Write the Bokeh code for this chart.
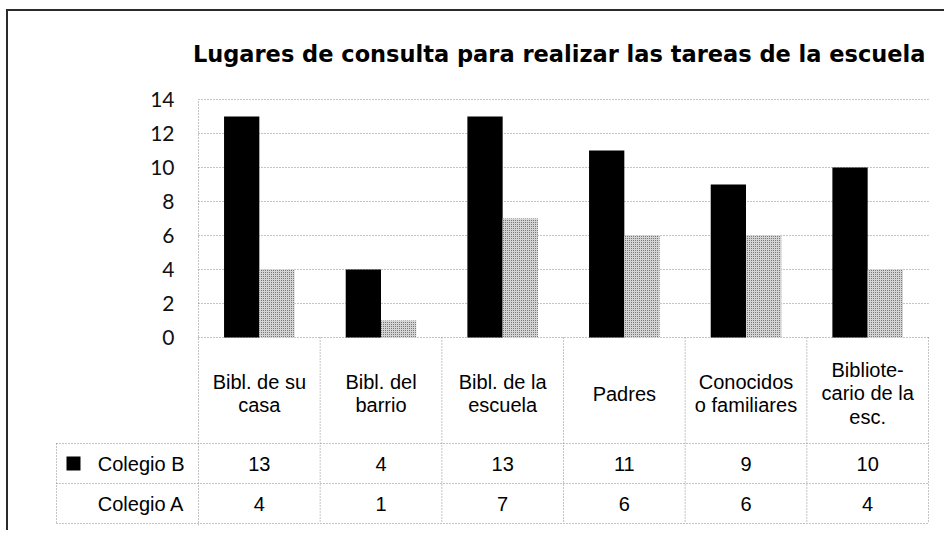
from bokeh.plotting import figure
from bokeh.models import Range1d, FixedTicker, LinearAxis, ColumnDataSource
from bokeh.transform import dodge
from bokeh.core.properties import value
from bokeh.embed import file_html
from bokeh.resources import INLINE

# ---------------- data ----------------
title_text = "Lugares de consulta para realizar las tareas de la escuela"
categories = ["Bibl. de su\ncasa", "Bibl. del\nbarrio", "Bibl. de la\nescuela",
              "Padres", "Conocidos\no familiares", "Bibliote-\ncario de la\nesc."]
series_names = ["Colegio B", "Colegio A"]
colegio_b = [13, 4, 13, 11, 9, 10]
colegio_a = [4, 1, 7, 6, 6, 4]
y_ticks = [0, 2, 4, 6, 8, 10, 12, 14]

# ---------------- layout helpers (data units) ----------------
n = len(categories)
y_max = 14
px_per_y = 17.0
px_per_x = 121.67
label_col = 142 / px_per_x          # width of the row-label column of the table
row_top = -106 / px_per_y           # bottom of the category-label row
row_mid = -146 / px_per_y           # between the two series rows
row_bot = -186 / px_per_y           # bottom of the table
cat_y = -56 / px_per_y
b_y = (row_top + row_mid) / 2
a_y = (row_mid + row_bot) / 2

x_start = -(144 / px_per_x)
x_end = n + 2 / px_per_x
y_end = y_max + 13 / px_per_y
y_start = y_max - 426 / px_per_y

W, H = 938, 521
p = figure(width=W, height=H, output_backend="svg", toolbar_location=None,
           x_range=Range1d(x_start, x_end), y_range=Range1d(y_start, y_end),
           x_axis_location=None, y_axis_location=None,
           min_border_left=46, min_border_right=16, min_border_top=75, min_border_bottom=7)
p.grid.visible = False
p.outline_line_color = None
p.background_fill_color = "white"
p.border_fill_color = "white"
p.styles = {"margin-left": "6px", "margin-top": "9px",
            "border-top": "2px solid #2b2b2b", "border-left": "2px solid #2b2b2b"}

# title
p.title.text = title_text
p.title.align = "right"
p.title.offset = 5
p.title.standoff = 39
p.title.text_font = "DejaVu Sans"
p.title.text_font_size = "22.5px"
p.title.text_font_style = "bold"
p.title.text_color = "#000000"

# y axis at the left edge of the category area
yax = LinearAxis(fixed_location=0, ticker=FixedTicker(ticks=y_ticks), bounds=(y_start, y_max))
yax.axis_line_color = "#8a8a8a"
yax.axis_line_dash = "1 2"
yax.major_tick_line_color = None
yax.minor_tick_line_color = None
yax.major_tick_out = 0
yax.major_tick_in = 0
yax.major_label_standoff = 24
yax.major_label_text_font = "Lato"
yax.major_label_text_font_size = "21px"
yax.major_label_text_color = "#111111"
p.add_layout(yax, "left")

xs = [i + 0.5 for i in range(n)]
src = ColumnDataSource(dict(x=xs, b=colegio_b, a=colegio_a, cat=categories,
                            bt=[str(v) for v in colegio_b], at=[str(v) for v in colegio_a]))

# gridlines (only over the category area)
p.segment(x0=[0] * len(y_ticks), x1=[n] * len(y_ticks), y0=y_ticks, y1=y_ticks,
          line_color="#8a8a8a", line_dash="1 2", line_width=1)

# bars
bw = 0.29
p.vbar(x=dodge("x", -bw / 2), top="b", bottom=0, width=bw, source=src,
       fill_color="#000000", line_color=None)
p.vbar(x=dodge("x", bw / 2), top="a", bottom=0, width=bw, source=src,
       fill_color="#d4d4d4", line_color=None,
       hatch_pattern="dot", hatch_color="#5a5a5a", hatch_scale=2, hatch_weight=1)

# data table lines
hl = [row_top, row_mid, row_bot]
p.segment(x0=[-label_col] * 3, x1=[n] * 3, y0=hl, y1=hl,
          line_color="#8a8a8a", line_dash="1 2", line_width=1)
vx = list(range(1, n + 1))
p.segment(x0=vx, x1=vx, y0=[0] * n, y1=[row_bot] * n,
          line_color="#8a8a8a", line_dash="1 2", line_width=1)
p.segment(x0=[-label_col], x1=[-label_col], y0=[row_top], y1=[row_bot],
          line_color="#8a8a8a", line_dash="1 2", line_width=1)

# table texts
font = value("Liberation Sans")
p.text(x="x", y=cat_y, text="cat", source=src, text_align="center", text_baseline="middle",
       text_font=font, text_font_size="20px", text_line_height=1.05, text_color="#000000")
p.text(x="x", y=b_y, text="bt", source=src, text_align="center", text_baseline="middle",
       text_font=font, text_font_size="20px", text_color="#000000")
p.text(x="x", y=a_y, text="at", source=src, text_align="center", text_baseline="middle",
       text_font=font, text_font_size="20px", text_color="#000000")
p.text(x=[-14 / px_per_x] * 2, y=[b_y, a_y], text=series_names, text_align="right",
       text_baseline="middle", text_font=font, text_font_size="20px", text_color="#000000")
p.scatter(x=[-125 / px_per_x], y=[b_y], marker="square", size=14,
          fill_color="#000000", line_color=None)

open("out.html", "w").write(file_html(p, INLINE))
